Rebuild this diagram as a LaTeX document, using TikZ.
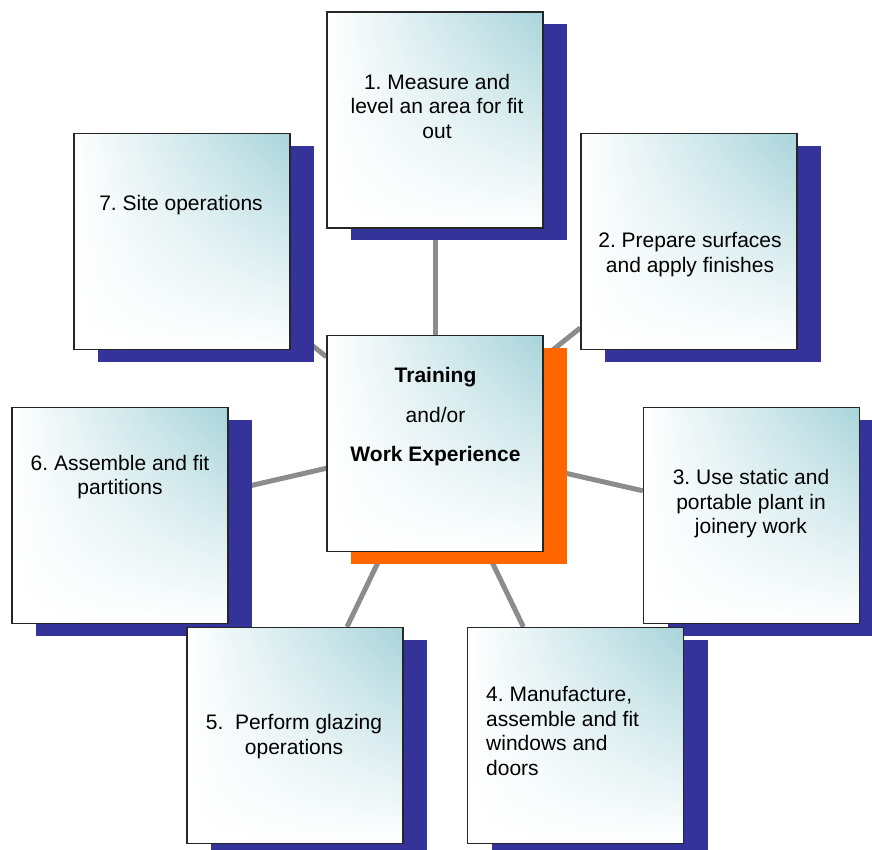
\documentclass[tikz,border=0pt]{standalone}
\usepackage{fontspec}
\setmainfont{Liberation Sans}
\frenchspacing
\usetikzlibrary{shadows,shadings,backgrounds}
\definecolor{boxteal}{RGB}{168,212,218}
\definecolor{shadownavy}{RGB}{51,51,153}
\definecolor{shadoworange}{RGB}{255,102,0}
\definecolor{spokegray}{RGB}{140,140,140}

\begin{document}
\begin{tikzpicture}[x=1pt,y=-1pt]
\tikzset{plainbox/.style={draw=black!85, line width=1.3pt, minimum size=216pt, inner sep=0pt,
    shade, upper left=white, upper right=boxteal, lower left=white, lower right=white},
  unitbox/.style={plainbox, drop shadow={shadow xshift=24pt, shadow yshift=-12pt, fill=shadownavy, opacity=1}},
  hubbox/.style={plainbox, drop shadow={shadow xshift=24pt, shadow yshift=-12pt, fill=shadoworange, opacity=1}},
  txt/.style={align=center, font=\fontsize{21}{24.5}\selectfont, inner sep=0pt},
  spoke/.style={draw=spokegray, line width=5pt}}
\useasboundingbox (0,0) rectangle (872,849);
\node[hubbox] (c) at (435,443.5) {};
\node[unitbox] (b1) at (435,120) {};
\node[unitbox] (b2) at (689,241.5) {};
\node[unitbox] (b3) at (751.5,515.5) {};
\node[unitbox] (b4) at (575.5,735.5) {};
\node[unitbox] (b7) at (182,241.5) {};
\node[unitbox] (b6) at (120,515.5) {};
\node[unitbox] (b5) at (295,735.5) {};
\node[txt, font=\fontsize{21}{39.5}\selectfont] (t0) at (435.5,417) {{\bfseries Training}\\and/or\\{\bfseries Work Experience}};
\node[txt] (t1) at (437,106) {1. Measure and\\level an area for fit\\out};
\node[txt] (t2) at (690,254.5) {2. Prepare surfaces\\and apply finishes};
\node[txt] (t3) at (751,504) {3. Use static and\\portable plant in\\joinery work};
\node[txt, align=left, anchor=west] (t4) at (486,731) {4. Manufacture,\\assemble and fit\\windows and\\doors};
\node[txt] (t5) at (294,736.5) {5.\ \ Perform glazing\\operations};
\node[txt] (t6) at (120,477) {6. Assemble and fit\\partitions};
\node[txt] (t7) at (181,205) {7. Site operations};
\begin{pgfonlayer}{background}
\draw[spoke] (c) -- (b1);
\draw[spoke] (c) -- (b2);
\draw[spoke] (c) -- (b3);
\draw[spoke] (c) -- (b4);
\draw[spoke] (c) -- (b5);
\draw[spoke] (c) -- (b6);
\draw[spoke] (c) -- (b7);
\end{pgfonlayer}
\end{tikzpicture}
\end{document}
